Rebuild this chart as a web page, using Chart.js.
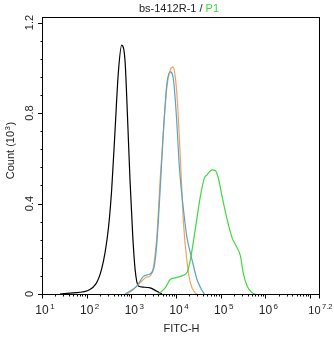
<!DOCTYPE html>
<html>
<head>
<meta charset="utf-8">
<script src="https://cdn.jsdelivr.net/npm/chart.js@4/dist/chart.umd.min.js"></script>
<style>
html,body{margin:0;padding:0;background:#fff;}
#wrap{width:334px;height:337px;position:relative;}
</style>
</head>
<body>
<div id="wrap"><canvas id="c" width="334" height="337"></canvas></div>
<script>
// ---- data (FITC-H values, counts in 10^3) ----
const blackX = [24, 47, 112, 205, 289, 344, 409, 484, 578, 686, 773, 888, 1021, 1150, 1365, 1766, 2504, 3535, 4581];
const blackY = [0, 0.005, 0.02, 0.11, 0.285, 0.46, 0.72, 0.975, 1.10, 1.03, 0.80, 0.50, 0.255, 0.11, 0.035, 0.03, 0.027, 0.012, 0];

const orangeX = [760, 1052, 1489, 2109, 2502, 2967, 3535, 4190, 4975, 5934, 7036, 8090, 9120, 10260, 11800, 13990, 16680, 19810, 25650, 28440];
const orangeY = [0, 0.02, 0.05, 0.075, 0.08, 0.12, 0.255, 0.505, 0.725, 0.916, 0.99, 1.004, 0.96, 0.843, 0.61, 0.31, 0.145, 0.05, 0.005, 0];

const blueX = [686, 1256, 1766, 2290, 2967, 3535, 4190, 4975, 5934, 7036, 8340, 9590, 11380, 13990, 16680, 21630, 28000, 33200, 40820];
const blueY = [0, 0.035, 0.078, 0.086, 0.108, 0.226, 0.46, 0.725, 0.93, 0.982, 0.946, 0.80, 0.55, 0.37, 0.25, 0.152, 0.064, 0.03, 0];

const greenX = [3837, 5433, 7036, 9120, 11800, 16680, 19810, 26720, 33200, 40820, 46950, 60810, 72110, 85660, 102100, 132200, 171300, 203300, 263200, 302600, 372300, 482100, 571500];
const greenY = [0, 0.027, 0.064, 0.071, 0.078, 0.095, 0.15, 0.31, 0.43, 0.512, 0.527, 0.549, 0.546, 0.505, 0.43, 0.33, 0.248, 0.218, 0.167, 0.093, 0.034, 0.005, 0];

// ---- axes ----
const xMajorExps = [1, 2, 3, 4, 5, 6, 7.2];
const yMajorTicks = [0, 0.4, 0.8, 1.2];
const yMinorStep = 0.08;
const titleMain = 'bs-1412R-1 / ';
const titleGate = 'P1';
const xTitle = 'FITC-H';
const yTitle = 'Count (10';
const yTitleSup = '3';

const FONT = '"Liberation Sans", Arial, sans-serif';

function pts(xs, ys) { return xs.map((x, i) => ({x: x, y: ys[i]})); }

const framePlugin = {
  id: 'frame',
  afterDraw(chart) {
    const ctx = chart.ctx, a = chart.chartArea;
    const xs = chart.scales.x, ys = chart.scales.y;
    const L = Math.round(a.left) - 0.5, R = Math.round(a.right) - 0.5;
    const T = Math.round(a.top) - 0.5, B = Math.round(a.bottom) + 0.5;
    ctx.save();
    ctx.strokeStyle = '#000';
    ctx.lineWidth = 1;
    ctx.strokeRect(L, T, R - L, B - T);
    // x ticks
    ctx.beginPath();
    for (let d = 1; d <= 7; d++) {
      for (let k = 1; k <= 9; k++) {
        const v = k * Math.pow(10, d);
        if (v > xs.max * 1.0001) break;
        const px = Math.round(xs.getPixelForValue(v)) - 0.5;
        const len = (k === 1) ? 4 : 2;
        ctx.moveTo(px, B); ctx.lineTo(px, B + len);
      }
    }
    const pxMax = Math.round(xs.getPixelForValue(xs.max)) - 0.5;
    ctx.moveTo(pxMax, B); ctx.lineTo(pxMax, B + 4);
    // y ticks
    for (let v = 0; v <= 1.2001; v += yMinorStep) {
      const py = Math.round(ys.getPixelForValue(v)) + 0.5;
      const major = yMajorTicks.some(t => Math.abs(t - v) < 1e-6);
      ctx.moveTo(L, py); ctx.lineTo(L - (major ? 4.5 : 2), py);
    }
    ctx.stroke();

    ctx.fillStyle = '#222';
    // x tick labels
    xMajorExps.forEach(e => {
      const px = xs.getPixelForValue(Math.pow(10, e));
      const isEnd = !Number.isInteger(e);
      const bigF = isEnd ? 11 : 12, supF = isEnd ? 7.5 : 8;
      ctx.textAlign = 'left';
      ctx.textBaseline = 'alphabetic';
      ctx.font = bigF + 'px ' + FONT;
      const w = ctx.measureText('10').width;
      ctx.font = supF + 'px ' + FONT;
      const ws = ctx.measureText(String(e)).width;
      let x0 = px - w / 2 - 1;
      const end = x0 + w + 1.5 + ws;
      if (end > 332.5) x0 -= (end - 332.5);
      ctx.font = bigF + 'px ' + FONT;
      ctx.fillText('10', x0, 314);
      ctx.font = supF + 'px ' + FONT;
      ctx.fillText(String(e), x0 + w + 1.5, 308.5);
    });
    // y tick labels (rotated)
    ctx.font = '11px ' + FONT;
    yMajorTicks.forEach(t => {
      const py = ys.getPixelForValue(t);
      ctx.save();
      ctx.translate(30, py);
      ctx.rotate(-Math.PI / 2);
      ctx.textAlign = 'center';
      ctx.textBaseline = 'middle';
      ctx.fillText(String(t), 0, 0);
      ctx.restore();
    });
    // x title
    ctx.font = '11px ' + FONT;
    ctx.textAlign = 'center';
    ctx.textBaseline = 'alphabetic';
    ctx.fillText(xTitle, (a.left + a.right) / 2, 331.5);
    // y title
    ctx.save();
    ctx.font = '11px ' + FONT;
    const w1 = ctx.measureText(yTitle).width;
    ctx.font = '8px ' + FONT;
    const w2 = ctx.measureText(yTitleSup).width;
    ctx.font = '11px ' + FONT;
    const w3 = ctx.measureText(')').width;
    const tot = w1 + w2 + 1 + w3;
    ctx.translate(14, 150.5);
    ctx.rotate(-Math.PI / 2);
    ctx.textAlign = 'left';
    ctx.textBaseline = 'alphabetic';
    let x = -tot / 2;
    ctx.fillText(yTitle, x, 0); x += w1;
    ctx.font = '8px ' + FONT;
    ctx.fillText(yTitleSup, x + 0.5, -4.5); x += w2 + 1;
    ctx.font = '11px ' + FONT;
    ctx.fillText(')', x, 0);
    ctx.restore();
    // title
    ctx.font = '11px ' + FONT;
    ctx.textAlign = 'left';
    const tw1 = ctx.measureText(titleMain).width;
    const tw2 = ctx.measureText(titleGate).width;
    const tx = 179 - (tw1 + tw2) / 2;
    ctx.fillStyle = '#222';
    ctx.fillText(titleMain, tx, 12);
    ctx.fillStyle = '#3fd83f';
    ctx.fillText(titleGate, tx + tw1, 12);
    ctx.restore();
  }
};

function ds(xs, ysArr, color) {
  return {
    data: pts(xs, ysArr),
    borderColor: color,
    borderWidth: 1.2,
    pointRadius: 0,
    fill: false,
    cubicInterpolationMode: 'monotone',
    tension: 0.4
  };
}

new Chart(document.getElementById('c'), {
  type: 'line',
  data: {
    datasets: [
      ds(greenX, greenY, '#3fd83f'),
      ds(blueX, blueY, '#5aa3c4'),
      ds(orangeX, orangeY, '#f4a060'),
      ds(blackX, blackY, '#000000')
    ]
  },
  options: {
    responsive: false,
    animation: false,
    devicePixelRatio: 1,
    layout: { padding: { left: 43, right: 14, top: 18, bottom: 43 } },
    plugins: { legend: { display: false }, tooltip: { enabled: false }, title: { display: false } },
    scales: {
      x: { type: 'logarithmic', min: 10, max: Math.pow(10, 7.2), display: false },
      y: { type: 'linear', min: 0, max: 1.22, display: false }
    }
  },
  plugins: [framePlugin]
});
</script>
</body>
</html>
